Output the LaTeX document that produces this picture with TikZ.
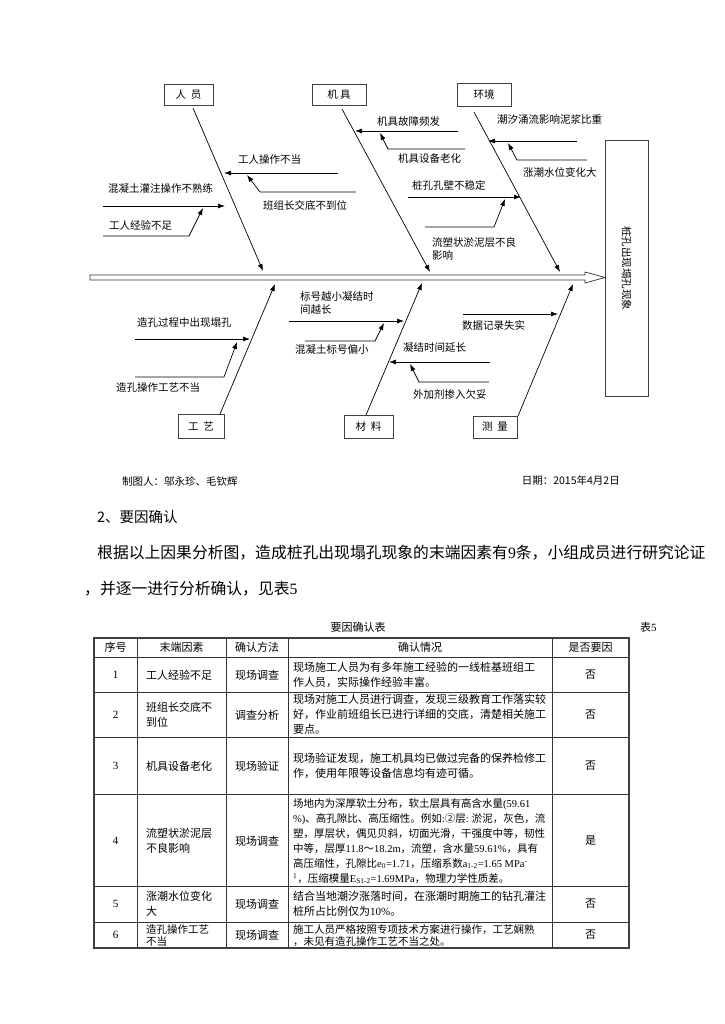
\documentclass[tikz,border=0pt]{standalone}
\usepackage{fontspec}
\setmainfont{Noto Sans CJK SC}
\newfontfamily\lserif{Liberation Serif}
\newcommand\lsr[1]{{\lserif #1}}
\usetikzlibrary{arrows.meta}
\begin{document}
\begin{tikzpicture}[x=1pt,y=-1pt,
  catbox/.style={draw=black!75, line width=0.7pt, minimum height=21pt, inner sep=0pt, font=\fontsize{10.5}{12}\selectfont},
  lbl/.style={anchor=west, inner sep=0pt, font=\fontsize{10.5}{13}\selectfont, align=left},
  ln/.style={line width=0.7pt},
  arr/.style={line width=0.7pt, -{Latex[length=7pt,width=5pt]}},
  cell/.style={inner sep=0pt, font=\fontsize{11}{15}\selectfont, align=left},
  cellc/.style={inner sep=0pt, font=\fontsize{11}{15}\selectfont, align=center},
  note/.style={inner sep=0pt, font=\fontsize{10.5}{12}\selectfont},
  body/.style={anchor=west, inner sep=0pt, font=\fontsize{15.8}{18}\selectfont},
  grid/.style={line width=0.6pt, draw=black!80},
  outer/.style={line width=1.2pt, draw=black!75}]
\fill[white] (0,0) rectangle (724,1024);
\useasboundingbox (0,0) rectangle (724,1024);

% ---------- category boxes ----------
\node[catbox, minimum width=49pt] (ry) at (188.5,94.5) {人\ \ 员};
\node[catbox, minimum width=54pt] (jj) at (339,94.5) {机\ 具};
\node[catbox, minimum width=54pt, minimum height=23pt] (hj) at (484,94.5) {环境};
\node[catbox, minimum width=46pt, minimum height=24pt] (gy) at (201,426) {工\ \ 艺};
\node[catbox, minimum width=49pt, minimum height=23pt] (cl) at (368.5,426.5) {材\ \ 料};
\node[catbox, minimum width=44pt, minimum height=22pt] (cm) at (495,427) {测\ \ 量};

% ---------- effect box ----------
\node[draw=black!75, line width=0.7pt, minimum width=43pt, minimum height=256pt, inner sep=0pt] (eff) at (626.5,268) {};
\node[rotate=-90, inner sep=0pt, font=\fontsize{10.5}{12}\selectfont] (efft) at (626.5,268) {桩孔出现塌孔现象};

% ---------- main hollow arrow ----------
\coordinate (tail) at (90,277.5);
\coordinate (tip) at (605,277.5);
\draw[line width=0.7pt, draw=black!80] (90,275) -- (585,275) -- (585,272) -- (tip) -- (585,283) -- (585,280) -- (90,280) -- cycle;

% ---------- spines ----------
\coordinate (a1) at (193,108); \coordinate (a2) at (263,271);
\coordinate (b1) at (342,109); \coordinate (b2) at (430,272);
\coordinate (c1) at (474,112); \coordinate (c2) at (560,272);
\coordinate (d1) at (220,414); \coordinate (d2) at (275,284);
\coordinate (e1) at (366,415); \coordinate (e2) at (422,283);
\coordinate (f1) at (518,416); \coordinate (f2) at (573,284);
\draw[arr] (a1) -- (a2);
\draw[arr] (b1) -- (b2);
\draw[arr] (c1) -- (c2);
\draw[arr] (d1) -- (d2);
\draw[arr] (e1) -- (e2);
\draw[arr] (f1) -- (f2);

% ---------- 人员 ----------
\node[lbl] (t1) at (238,160) {工人操作不当};
\draw[arr] (338,173) -- (224,173);
\node[lbl] (t2) at (263,205) {班组长交底不到位};
\draw[arr] (356,192) -- (260,192) -- (247,175);
\node[lbl] (t3) at (108,188) {混凝土灌注操作不熟练};
\draw[arr] (103,206) -- (225,206);
\node[lbl] (t4) at (109,225) {工人经验不足};
\draw[arr] (103,236) -- (189,236) -- (203,208);

% ---------- 机具 ----------
\node[lbl] (t5) at (377,122) {机具故障频发};
\draw[arr] (458,131) -- (355,131);
\node[lbl] (t6) at (398,159) {机具设备老化};
\draw[arr] (465,149) -- (388,149) -- (380,133);
\node[lbl] (t7) at (412,185) {桩孔孔壁不稳定};
\draw[arr] (408,197) -- (521,197);
\node[lbl] (t8) at (432,248.5) {流塑状淤泥层不良\\影响};
\draw[arr] (425,227) -- (494,227) -- (505,199);

% ---------- 环境 ----------
\node[lbl] (t9) at (497,120) {潮汐涌流影响泥浆比重};
\draw[arr] (577,141) -- (488,141);
\node[lbl] (t10) at (523,172) {涨潮水位变化大};
\draw[arr] (587,160) -- (517,160) -- (508,143);

% ---------- 工艺 ----------
\node[lbl] (t11) at (137,323) {造孔过程中出现塌孔};
\draw[arr] (135,339) -- (250,339);
\node[lbl] (t12) at (116,388) {造孔操作工艺不当};
\draw[arr] (135,377) -- (224,377) -- (237,342);

% ---------- 材料 ----------
\node[lbl] (t13) at (300,303.5) {标号越小凝结时\\间越长};
\draw[arr] (289,321) -- (404,321);
\node[lbl] (t14) at (295,350) {混凝土标号偏小};
\draw[arr] (305,341) -- (375,341) -- (384,323);
\node[lbl] (t15) at (403,348) {凝结时间延长};
\draw[arr] (490,362) -- (389,362);
\node[lbl] (t16) at (413,394) {外加剂掺入欠妥};
\draw[arr] (489,382) -- (419,382) -- (410,364);

% ---------- 测量 ----------
\node[lbl] (t17) at (462,325) {数据记录失实};
\draw[arr] (463,314) -- (558,314);

% ---------- notes below ----------
\node[note, anchor=west] (mk) at (122,481) {制图人：邬永珍、毛钦辉};
\node[note, anchor=east] (dt) at (620,481) {日期：2015年4月2日};
\node[anchor=west, inner sep=0pt, font=\fontsize{14.5}{17}\selectfont] (h2) at (97,517) {2、要因确认};
\node[body] (p1) at (97,553) {根据以上因果分析图，造成桩孔出现塌孔现象的末端因素有\lsr{9}条，小组成员进行研究论证};
\node[body] (p2) at (84,589) {，并逐一进行分析确认，见表\lsr{5}};

% ---------- table ----------
\node[note, font=\fontsize{11}{13}\selectfont] (tt) at (358,627) {要因确认表};
\node[note, font=\fontsize{11}{13}\selectfont, anchor=west] (tn) at (640,627) {表\lsr{5}};

\draw[grid] (94,657) -- (629,657);
\draw[grid] (94,692) -- (629,692);
\draw[grid] (94,737) -- (629,737);
\draw[grid] (94,794) -- (629,794);
\draw[grid] (94,886) -- (629,886);
\draw[grid] (94,922) -- (629,922);
\draw[grid] (137,638) -- (137,948);
\draw[grid] (226,638) -- (226,948);
\draw[grid] (288,638) -- (288,948);
\draw[grid] (552,638) -- (552,948);
\draw[outer] (94,638) rectangle (629,948);

% header
\node[cellc] (h1) at (115.5,647.5) {序号};
\node[cellc] (h2b) at (181.5,647.5) {末端因素};
\node[cellc] (h3) at (257,647.5) {确认方法};
\node[cellc] (h4) at (420,647.5) {确认情况};
\node[cellc] (h5) at (590.5,647.5) {是否要因};

% row 1
\node[cellc] (r1a) at (115.5,675) {\lsr{1}};
\node[cell, anchor=west] (r1b) at (146,675) {工人经验不足};
\node[cellc] (r1c) at (257,675) {现场调查};
\node[cell, anchor=west] (r1d) at (293,675) {现场施工人员为有多年施工经验的一线桩基班组工\\作人员，实际操作经验丰富。};
\node[cellc] (r1e) at (590.5,675) {否};

% row 2
\node[cellc] (r2a) at (115.5,715) {\lsr{2}};
\node[cell, anchor=west] (r2b) at (146,715) {班组长交底不\\到位};
\node[cellc] (r2c) at (257,715) {调查分析};
\node[cell, anchor=west] (r2d) at (293,714.5) {现场对施工人员进行调查，发现三级教育工作落实较\\好，作业前班组长已进行详细的交底，清楚相关施工\\要点。};
\node[cellc] (r2e) at (590.5,715) {否};

% row 3
\node[cellc] (r3a) at (115.5,766) {\lsr{3}};
\node[cell, anchor=west] (r3b) at (146,766) {机具设备老化};
\node[cellc] (r3c) at (257,766) {现场验证};
\node[cell, anchor=west] (r3d) at (293,766) {现场验证发现，施工机具均已做过完备的保养检修工\\作，使用年限等设备信息均有迹可循。};
\node[cellc] (r3e) at (590.5,766) {否};

% row 4
\node[cellc] (r4a) at (115.5,841) {\lsr{4}};
\node[cell, anchor=west] (r4b) at (146,841) {流塑状淤泥层\\不良影响};
\node[cellc] (r4c) at (257,841) {现场调查};
\node[cell, anchor=west, font=\fontsize{10.5}{15}\selectfont] (r4d) at (293,841) {场地内为深厚软土分布，软土层具有高含水量\lsr{(59.61}\\\lsr{\%)}、高孔隙比、高压缩性。例如\lsr{:}②层\lsr{:} 淤泥，灰色，流\\塑，厚层状，偶见贝斜，切面光滑，干强度中等，韧性\\中等，层厚\lsr{11.8}～\lsr{18.2m}，流塑，含水量\lsr{59.61\%}，具有\\高压缩性，孔隙比\lsr{e\textsubscript{0}=1.71}，压缩系数\lsr{a\textsubscript{1-2}=1.65 MPa\textsuperscript{-}}\\\lsr{\textsuperscript{1}}，压缩模量\lsr{E\textsubscript{S1-2}=1.69MPa}，物理力学性质差。};
\node[cellc] (r4e) at (590.5,841) {是};

% row 5
\node[cellc] (r5a) at (115.5,904) {\lsr{5}};
\node[cell, anchor=west] (r5b) at (146,904) {涨潮水位变化\\大};
\node[cellc] (r5c) at (257,904) {现场调查};
\node[cell, anchor=west] (r5d) at (293,904) {结合当地潮汐涨落时间，在涨潮时期施工的钻孔灌注\\桩所占比例仅为\lsr{10\%}。};
\node[cellc] (r5e) at (590.5,904) {否};

% row 6
\node[cellc] (r6a) at (115.5,935) {\lsr{6}};
\node[cell, anchor=west, font=\fontsize{10.5}{12.5}\selectfont] (r6b) at (146,935.5) {造孔操作工艺\\不当};
\node[cellc] (r6c) at (257,935) {现场调查};
\node[cell, anchor=west, font=\fontsize{10.5}{12.5}\selectfont] (r6d) at (293,935.5) {施工人员严格按照专项技术方案进行操作，工艺娴熟\\，未见有造孔操作工艺不当之处。};
\node[cellc] (r6e) at (590.5,935) {否};
\end{tikzpicture}
\end{document}
